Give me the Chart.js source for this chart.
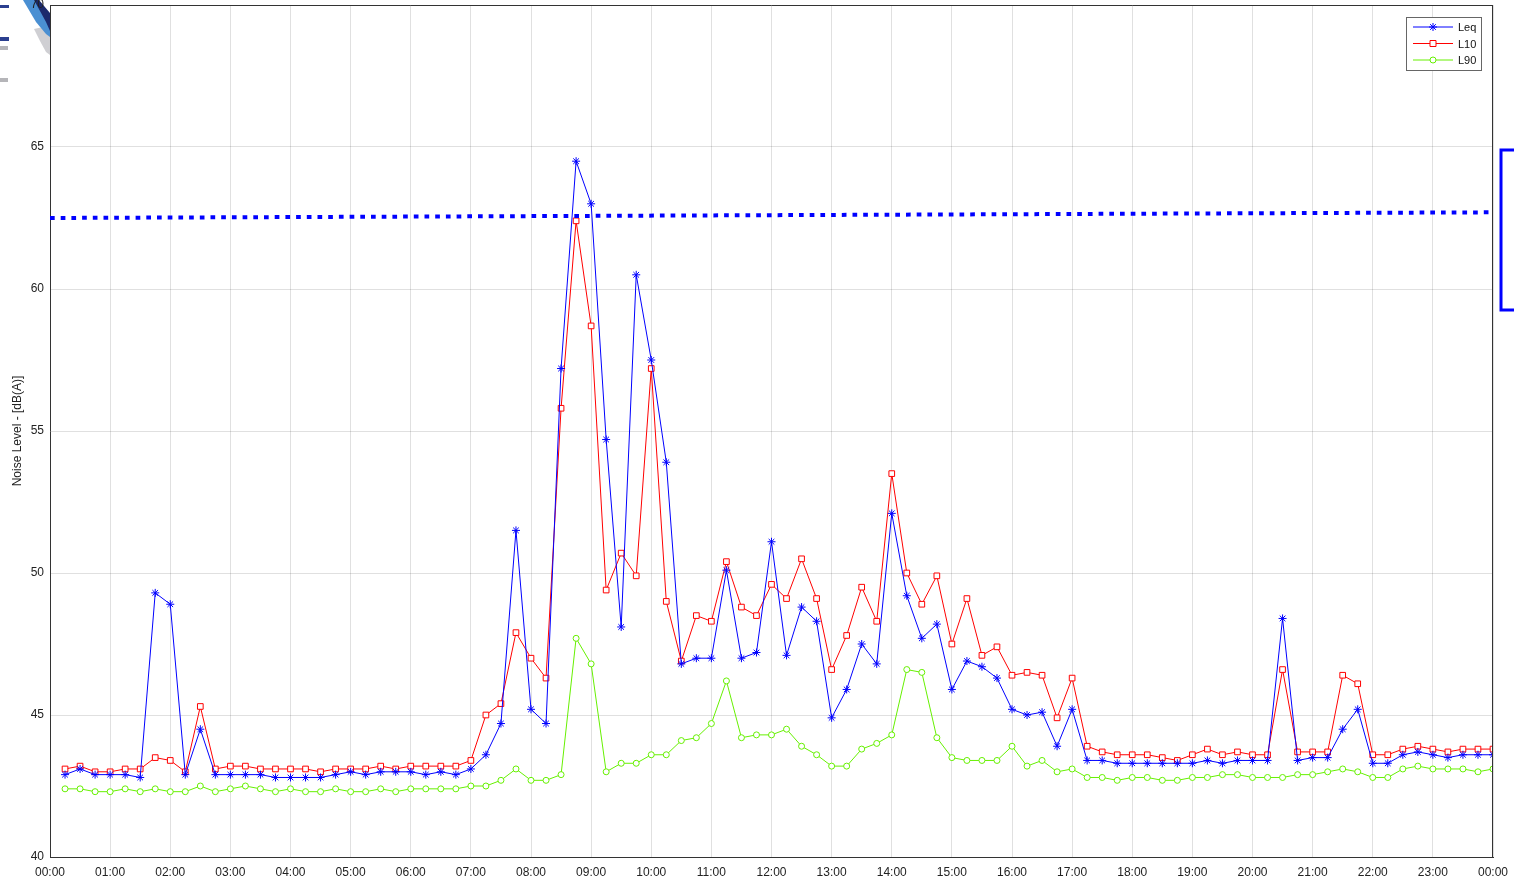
<!DOCTYPE html>
<html>
<head>
<meta charset="utf-8">
<script src="https://cdn.jsdelivr.net/npm/chart.js@4"></script>
<style>
html, body { margin: 0; padding: 0; background: #fff; }
</style>
</head>
<body>
<canvas id="myChart" width="1514" height="886"></canvas>
<script>

// 15 minute samples, first one at 00:15, last one at 24:00
var sampleStart = 15;
var sampleStep = 15;

var leq = [
  42.9, 43.1, 42.9, 42.9, 42.9, 42.8, 49.3, 48.9, 42.9, 44.5, 42.9, 42.9, 42.9, 42.9, 42.8, 42.8,
  42.8, 42.8, 42.9, 43.0, 42.9, 43.0, 43.0, 43.0, 42.9, 43.0, 42.9, 43.1, 43.6, 44.7, 51.5, 45.2,
  44.7, 57.2, 64.5, 63.0, 54.7, 48.1, 60.5, 57.5, 53.9, 46.8, 47.0, 47.0, 50.1, 47.0, 47.2, 51.1,
  47.1, 48.8, 48.3, 44.9, 45.9, 47.5, 46.8, 52.1, 49.2, 47.7, 48.2, 45.9, 46.9, 46.7, 46.3, 45.2,
  45.0, 45.1, 43.9, 45.2, 43.4, 43.4, 43.3, 43.3, 43.3, 43.3, 43.3, 43.3, 43.4, 43.3, 43.4, 43.4,
  43.4, 48.4, 43.4, 43.5, 43.5, 44.5, 45.2, 43.3, 43.3, 43.6, 43.7, 43.6, 43.5, 43.6, 43.6, 43.6
];

var l10 = [
  43.1, 43.2, 43.0, 43.0, 43.1, 43.1, 43.5, 43.4, 43.0, 45.3, 43.1, 43.2, 43.2, 43.1, 43.1, 43.1,
  43.1, 43.0, 43.1, 43.1, 43.1, 43.2, 43.1, 43.2, 43.2, 43.2, 43.2, 43.4, 45.0, 45.4, 47.9, 47.0,
  46.3, 55.8, 62.4, 58.7, 49.4, 50.7, 49.9, 57.2, 49.0, 46.9, 48.5, 48.3, 50.4, 48.8, 48.5, 49.6,
  49.1, 50.5, 49.1, 46.6, 47.8, 49.5, 48.3, 53.5, 50.0, 48.9, 49.9, 47.5, 49.1, 47.1, 47.4, 46.4,
  46.5, 46.4, 44.9, 46.3, 43.9, 43.7, 43.6, 43.6, 43.6, 43.5, 43.4, 43.6, 43.8, 43.6, 43.7, 43.6,
  43.6, 46.6, 43.7, 43.7, 43.7, 46.4, 46.1, 43.6, 43.6, 43.8, 43.9, 43.8, 43.7, 43.8, 43.8, 43.8
];

var l90 = [
  42.4, 42.4, 42.3, 42.3, 42.4, 42.3, 42.4, 42.3, 42.3, 42.5, 42.3, 42.4, 42.5, 42.4, 42.3, 42.4,
  42.3, 42.3, 42.4, 42.3, 42.3, 42.4, 42.3, 42.4, 42.4, 42.4, 42.4, 42.5, 42.5, 42.7, 43.1, 42.7,
  42.7, 42.9, 47.7, 46.8, 43.0, 43.3, 43.3, 43.6, 43.6, 44.1, 44.2, 44.7, 46.2, 44.2, 44.3, 44.3,
  44.5, 43.9, 43.6, 43.2, 43.2, 43.8, 44.0, 44.3, 46.6, 46.5, 44.2, 43.5, 43.4, 43.4, 43.4, 43.9,
  43.2, 43.4, 43.0, 43.1, 42.8, 42.8, 42.7, 42.8, 42.8, 42.7, 42.7, 42.8, 42.8, 42.9, 42.9, 42.8,
  42.8, 42.8, 42.9, 42.9, 43.0, 43.1, 43.0, 42.8, 42.8, 43.1, 43.2, 43.1, 43.1, 43.1, 43.0, 43.1
];

// dotted limit line, value at 00:00 and at 24:00
var limitMinutes = [0, 1440];
var limitLine = [62.5, 62.7];

var seriesNames = ["Leq", "L10", "L90"];
var seriesColors = ["#0000ff", "#ff0000", "#66f000"];
var seriesMarkers = ["star", "rect", "circle"];

var yTitle = "Noise Level - [dB(A)]";
var fontName = "'Liberation Sans', Arial, sans-serif";


function toPoints(arr){
    var out = [];
    for (var i = 0; i < arr.length; i++) {
        out.push({x: sampleStart + i * sampleStep, y: arr[i]});
    }
    return out;
}

function hourLabel(v){
    var h = Math.floor(v / 60) % 24;
    return (h < 10 ? "0" : "") + h + ":00";
}

function drawMarker(c, style, x, y, color){
    c.save();
    c.strokeStyle = color;
    c.fillStyle = "#fff";
    c.lineWidth = 1;
    c.beginPath();
    if (style == "star") {
        var r = 4, d = r * Math.SQRT1_2;
        c.moveTo(x - r, y); c.lineTo(x + r, y);
        c.moveTo(x, y - r); c.lineTo(x, y + r);
        c.moveTo(x - d, y - d); c.lineTo(x + d, y + d);
        c.moveTo(x - d, y + d); c.lineTo(x + d, y - d);
        c.stroke();
    } else if (style == "rect") {
        c.rect(x - 3, y - 3, 6, 6);
        c.fill(); c.stroke();
    } else {
        c.arc(x, y, 3, 0, Math.PI * 2);
        c.fill(); c.stroke();
    }
    c.restore();
}

function poly(c, pts, color){
    c.fillStyle = color;
    c.beginPath();
    c.moveTo(pts[0], pts[1]);
    for (var i = 2; i < pts.length; i += 2) c.lineTo(pts[i], pts[i + 1]);
    c.closePath();
    c.fill();
}

var extras = {
    id: "extras",
    beforeDraw: function(chart){
        // bit of a logo peeking out on the top left
        var c = chart.ctx;
        c.save();
        c.beginPath(); c.rect(0, 0, 50, 100); c.clip();
        poly(c, [34, 29, 43, 27, 50, 33, 50, 55, 46, 52, 40, 41], "#cfcfd3");
        poly(c, [23, 0, 36, 0, 50, 19, 50, 37, 46, 34, 36, 22], "#4a8fd2");
        poly(c, [34, 0, 39, 0, 50, 13, 50, 31, 46, 22], "#1c2a6c");
        c.fillStyle = "#2b3f8f";
        c.fillRect(0, 5, 9, 3);
        c.fillRect(0, 37, 9, 4);
        c.fillStyle = "#b5b5b9";
        c.fillRect(0, 46, 8, 4);
        c.fillRect(0, 78, 8, 4);
        c.restore();
    },
    afterDraw: function(chart){
        var c = chart.ctx;
        var a = chart.chartArea;

        // top and right frame lines
        c.save();
        c.strokeStyle = "#333";
        c.lineWidth = 1;
        c.beginPath();
        c.moveTo(a.left, a.top + 0.5); c.lineTo(a.right, a.top + 0.5);
        c.moveTo(a.right - 0.5, a.top); c.lineTo(a.right - 0.5, a.bottom);
        c.stroke();

        // legend box
        var bx = 1406.5, by = 17.5, bw = 75, bh = 53;
        c.fillStyle = "#fff";
        c.fillRect(bx, by, bw, bh);
        c.strokeStyle = "#666";
        c.strokeRect(bx, by, bw, bh);
        c.font = "11px " + fontName;
        c.textBaseline = "middle";
        c.textAlign = "left";
        for (var i = 0; i < seriesNames.length; i++) {
            var ly = 27 + i * 16.5;
            c.strokeStyle = seriesColors[i];
            c.beginPath();
            c.moveTo(1413, ly); c.lineTo(1453, ly);
            c.stroke();
            drawMarker(c, seriesMarkers[i], 1433, ly, seriesColors[i]);
            c.fillStyle = "#111";
            c.fillText(seriesNames[i], 1458, ly + 1);
        }

        // blue bracket on the right edge
        c.strokeStyle = "#0000ff";
        c.lineWidth = 3;
        c.strokeRect(1501, 150, 40, 160);
        c.restore();
    }
};

function makeSet(i, arr){
    return {
        label: seriesNames[i],
        data: toPoints(arr),
        borderColor: seriesColors[i],
        borderWidth: 1,
        pointStyle: seriesMarkers[i],
        pointRadius: seriesMarkers[i] == "circle" ? 3 : 4,
        pointBorderWidth: 1,
        pointBorderColor: seriesColors[i],
        pointBackgroundColor: "#fff",
        tension: 0,
        fill: false
    };
}

var ctx = document.getElementById("myChart").getContext("2d");

var chart = new Chart(ctx, {
    type: "line",
    data: {
        datasets: [
            {
                label: "limit",
                data: [{x: limitMinutes[0], y: limitLine[0]}, {x: limitMinutes[1], y: limitLine[1]}],
                borderColor: "#0000ff",
                borderWidth: 4,
                borderDash: [4.7, 6],
                pointRadius: 0,
                fill: false
            },
            makeSet(0, leq),
            makeSet(1, l10),
            makeSet(2, l90)
        ]
    },
    options: {
        responsive: false,
        animation: false,
        layout: {padding: {top: 4, right: 21, left: 0, bottom: 0}},
        plugins: {
            legend: {display: false},
            tooltip: {enabled: false}
        },
        scales: {
            x: {
                type: "linear",
                min: 0,
                max: 1440,
                ticks: {
                    stepSize: 60,
                    maxTicksLimit: 30,
                    autoSkip: false,
                    maxRotation: 0,
                    padding: 8,
                    color: "#222",
                    font: {family: fontName, size: 12},
                    callback: hourLabel
                },
                grid: {color: "rgba(0,0,0,0.12)", drawTicks: false},
                border: {color: "#333"},
                afterFit: function(s){ s.height = 29; s.paddingLeft = 0; s.paddingRight = 0; }
            },
            y: {
                min: 40,
                max: 70,
                ticks: {
                    stepSize: 5,
                    padding: 6,
                    color: "#222",
                    font: {family: fontName, size: 12}
                },
                grid: {color: "rgba(0,0,0,0.12)", drawTicks: false},
                border: {color: "#333"},
                title: {
                    display: true,
                    text: yTitle,
                    color: "#222",
                    font: {family: fontName, size: 12},
                    padding: {top: 10, bottom: 0}
                },
                afterFit: function(s){ s.width = 50; s.paddingTop = 0; s.paddingBottom = 0; }
            }
        }
    },
    plugins: [extras]
});

</script>
</body>
</html>
